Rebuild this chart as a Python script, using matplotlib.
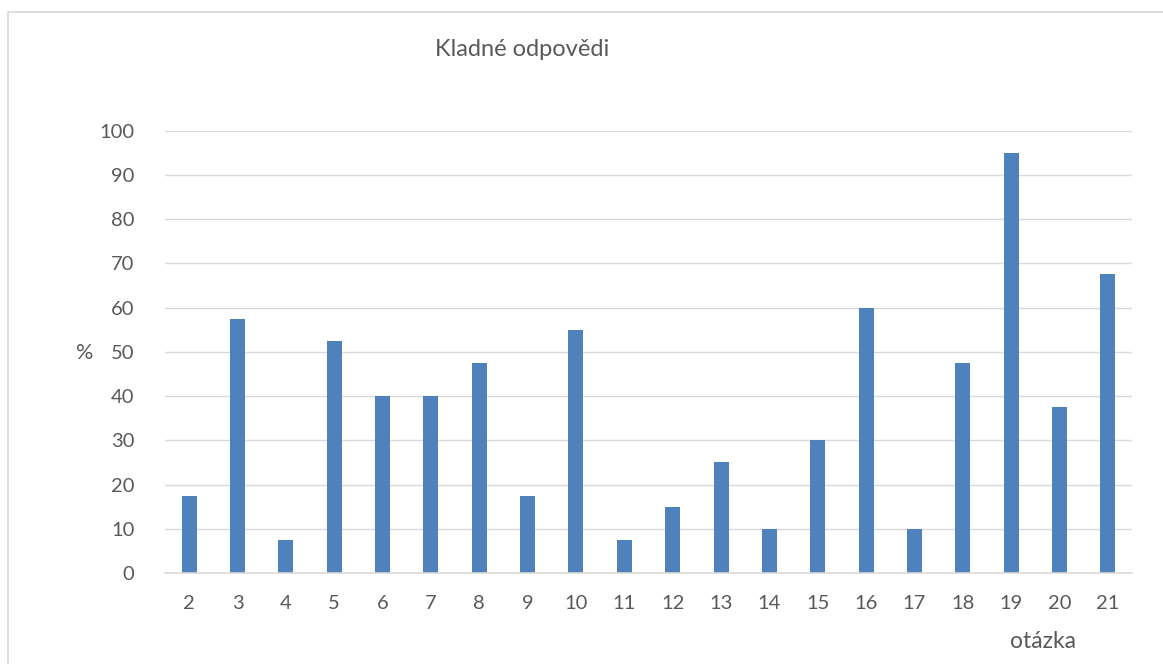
import matplotlib.pyplot as plt
from matplotlib.patches import Rectangle

# otázky a podíl kladných odpovědí v %
otazky = [str(i) for i in range(2, 22)]
kladne = [17.5, 57.5, 7.5, 52.5, 40, 40, 47.5, 17.5, 55, 7.5,
          15, 25, 10, 30, 60, 10, 47.5, 95, 37.5, 67.5]
y_ticks = list(range(0, 101, 10))

plt.rcParams['font.family'] = ['Lato', 'DejaVu Sans']
text_col = '#595959'
grid_col = '#d9d9d9'

fig = plt.figure(figsize=(11.63, 6.64), dpi=100)
ax = fig.add_axes([165 / 1163, 1 - 573 / 664, (1132 - 165) / 1163, (573 - 130.7) / 664])

x = range(len(otazky))
ax.bar(x, kladne, width=0.31, color='#4f81bd', zorder=3)

ax.set_xlim(-0.5, len(otazky) - 0.5)
ax.set_ylim(0, 100)
ax.set_yticks(y_ticks)
ax.set_xticks(list(x))
ax.set_xticklabels(otazky)
ax.tick_params(axis='both', length=0, labelsize=14.5, colors=text_col)
ax.tick_params(axis='y', pad=22)
ax.tick_params(axis='x', pad=16)
ax.grid(axis='y', color=grid_col, linewidth=1.0, zorder=0)
for side in ['top', 'right', 'left']:
    ax.spines[side].set_visible(False)
ax.spines['bottom'].set_color(grid_col)
ax.spines['bottom'].set_linewidth(1.2)
ax.spines['bottom'].set_zorder(4)

fig.text(522 / 1163, 1 - 50 / 664, 'Kladné odpovědi', ha='center', va='center',
         fontsize=17, color=text_col)
fig.text(85 / 1163, 1 - 353 / 664, '%', ha='center', va='center',
         fontsize=15.5, color=text_col)
fig.text(1043 / 1163, 1 - 641 / 664, 'otázka', ha='center', va='center',
         fontsize=16.5, color=text_col)

# rámeček grafu
fig.patches.append(Rectangle((8 / 1163, -0.1), 1.2, 1.1 - 12 / 664,
                             transform=fig.transFigure, fill=False,
                             edgecolor=grid_col, linewidth=1.2))

fig.savefig('out.png', dpi=100)
